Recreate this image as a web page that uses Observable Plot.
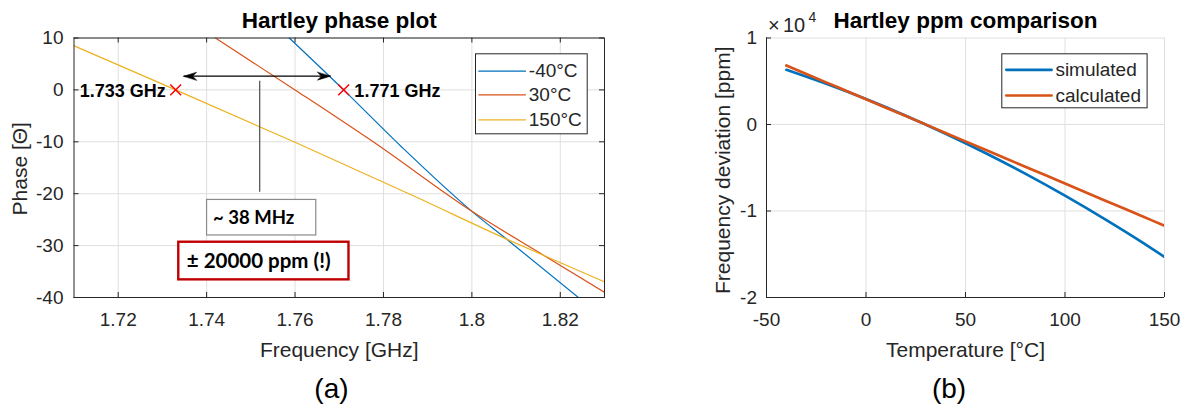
<!DOCTYPE html>
<html><head><meta charset="utf-8">
<script src="https://cdn.jsdelivr.net/npm/d3@7"></script>
<script src="https://cdn.jsdelivr.net/npm/@observablehq/plot@0.6"></script>
<style>
html,body{margin:0;padding:0;background:#fff;overflow:hidden;}
#stage{position:absolute;left:0;top:0;width:1192px;height:404px;}
#left{position:absolute;left:0;top:0;}
#right{position:absolute;left:661px;top:0;}
</style></head>
<body><div id="stage"><div id="left"></div><div id="right"></div></div>
<script>
// ---------- (a) Hartley phase plot ----------
const freqTicks = [1.72, 1.74, 1.76, 1.78, 1.8, 1.82];
const freqTickLabels = ["1.72", "1.74", "1.76", "1.78", "1.8", "1.82"];
const phaseTicks = [10, 0, -10, -20, -30, -40];
const phaseTickLabels = ["10", "0", "-10", "-20", "-30", "-40"];

const seriesNames = ["-40°C", "30°C", "150°C"];
const seriesColors = ["#0072BD", "#D95319", "#EDB120"];
const freqM40 = [1.7587, 1.771, 1.784, 1.800, 1.8085, 1.8241];
const phaseM40 = [10, 0, -10.9, -23.4, -29.2, -40];
const freq30 = [1.742, 1.760, 1.778, 1.800, 1.8163, 1.83];
const phase30 = [10, 0, -10.2, -23.4, -31.9, -39.0];
const freq150 = [1.71, 1.733, 1.76, 1.787, 1.8085, 1.8163, 1.83];
const phase150 = [8.5, 0, -10.1, -20.5, -29.0, -31.9, -37.0];

const markerFreqs = [1.733, 1.771];
const markerLabels = ["1.733 GHz", "1.771 GHz"];
const arrowFreqs = [1.7348, 1.768];
const arrowPhase = 2.64;
const guideFreq = 1.752;
const guidePhases = [1.68, -19.7];
const noteTexts = ["~ 38 MHz", "± 20000 ppm (!)"];
const noteFreqs = [[1.7401, 1.7648], [1.7337, 1.7722]];
const notePhases = [[-21.2, -28.05], [-29.35, -36.6]];

// ---------- (b) Hartley ppm comparison ----------
const tempTicks = [-50, 0, 50, 100, 150];
const tempTickLabels = ["-50", "0", "50", "100", "150"];
const ppmTicks = [10000, 0, -10000, -20000];
const ppmTickLabels = ["1", "0", "-1", "-2"];
const compNames = ["simulated", "calculated"];
const compColors = ["#0072BD", "#D95319"];
const temps = [-40, -20, 0, 20, 40, 60, 80, 100, 120, 140, 150];
const simulated = [6320, 4700, 2940, 1020, -1060, -3290, -5680, -8230, -10940, -13800, -15300];
const calculated = [6820, 4870, 2920, 975, -975, -2925, -4875, -6825, -8775, -10725, -11700];

// ---------- rendering ----------
const FONT = "'Liberation Sans', Arial, Helvetica, sans-serif";
const NOTEFONT = "Lato, 'Open Sans', sans-serif";
const AX = "#262626", GRID = "#dfdfdf";
const H = 404, TICK = 5;
const TICKFS = 19, LABELFS = 21, TITLEFS = 22.5, LEGFS = 19;
const lineShape = {draw(ctx, l) { ctx.moveTo(0, 0); ctx.lineTo(0, -l); }};
const headShape = {draw(ctx, l) { const w = 4; ctx.moveTo(0, -l); ctx.lineTo(w, 0); ctx.lineTo(0, -0.3 * l); ctx.lineTo(-w, 0); ctx.closePath(); }};

function legendMarks(names, colors, box, rows, lineDx, lineLen, textDx, sw) {
  const marks = [Plot.frame({fill: "white", stroke: AX, strokeWidth: 1, insetLeft: box[0], insetRight: box[1], insetTop: box[2], insetBottom: box[3]})];
  names.forEach((n, i) => {
    marks.push(Plot.vector([n], {frameAnchor: "top-left", dx: lineDx, dy: rows[i], length: lineLen, rotate: 90, anchor: "start", shape: lineShape, stroke: colors[i], strokeWidth: sw}));
    marks.push(Plot.text([n], {frameAnchor: "top-left", dx: textDx, dy: rows[i], text: d => d, textAnchor: "start", lineAnchor: "middle", fontSize: LEGFS, fontFamily: FONT, fill: AX}));
  });
  return marks;
}

// Left
const LW = 661, Lm = {left: 73.5, right: 57, top: 37.5, bottom: 107};
const LpW = LW - Lm.left - Lm.right, pH = H - Lm.top - Lm.bottom;
const curves = [
  ...freqM40.map((f, i) => ({s: seriesNames[0], f, p: phaseM40[i]})),
  ...freq30.map((f, i) => ({s: seriesNames[1], f, p: phase30[i]})),
  ...freq150.map((f, i) => ({s: seriesNames[2], f, p: phase150[i]}))
];
const notes = noteTexts.map((t, i) => ({t, x1: noteFreqs[i][0], x2: noteFreqs[i][1], y1: notePhases[i][0], y2: notePhases[i][1]}));

const left = Plot.plot({
  width: LW, height: H,
  marginLeft: Lm.left, marginRight: Lm.right, marginTop: Lm.top, marginBottom: Lm.bottom,
  style: {fontFamily: FONT, fontSize: TICKFS + "px", color: AX, background: "white"},
  x: {domain: [1.71, 1.83]},
  y: {domain: [-40, 10]},
  color: {domain: seriesNames, range: seriesColors},
  marks: [
    Plot.gridX(freqTicks, {stroke: GRID, strokeOpacity: 1}),
    Plot.gridY(phaseTicks, {stroke: GRID, strokeOpacity: 1}),
    Plot.line(curves, {x: "f", y: "p", z: "s", stroke: "s", strokeWidth: 1.2, curve: "monotone-x", clip: true}),
    Plot.tickX(freqTicks, {x: d => d, insetTop: pH - TICK, stroke: AX}),
    Plot.tickX(freqTicks, {x: d => d, insetBottom: pH - TICK, stroke: AX}),
    Plot.tickY(phaseTicks, {y: d => d, insetRight: LpW - TICK, stroke: AX}),
    Plot.tickY(phaseTicks, {y: d => d, insetLeft: LpW - TICK, stroke: AX}),
    Plot.frame({stroke: AX, strokeWidth: 1}),
    Plot.axisX(freqTicks, {tickSize: 0, tickPadding: 14.5, label: null, tickFormat: d => freqTickLabels[freqTicks.indexOf(d)], fontSize: TICKFS, fill: AX}),
    Plot.axisY(phaseTicks, {tickSize: 0, tickPadding: 10.5, label: null, tickFormat: d => phaseTickLabels[phaseTicks.indexOf(d)], fontSize: TICKFS, fill: AX}),
    // annotations
    Plot.link([arrowFreqs], {x1: d => d[0], x2: d => d[1], y1: d => arrowPhase, y2: d => arrowPhase, stroke: "#000", strokeWidth: 1.3}),
    Plot.vector([arrowFreqs], {x: d => d[0], y: d => arrowPhase, rotate: -90, anchor: "end", length: 13, shape: headShape, fill: "#000", stroke: "#000", strokeWidth: 0.5}),
    Plot.vector([arrowFreqs], {x: d => d[1], y: d => arrowPhase, rotate: 90, anchor: "end", length: 13, shape: headShape, fill: "#000", stroke: "#000", strokeWidth: 0.5}),
    Plot.ruleX([guideFreq], {x: d => d, y1: d => guidePhases[0], y2: d => guidePhases[1], stroke: "#595959", strokeWidth: 1.3}),
    Plot.dot(markerFreqs, {x: d => d, y: d => 0, symbol: "times", r: 5, stroke: "#ff0000", strokeWidth: 1.5}),
    Plot.text([markerLabels[0]], {x: d => markerFreqs[0], y: d => 0, text: d => d, textAnchor: "end", dx: -10, dy: 1, lineAnchor: "middle", fontFamily: FONT, fontWeight: "bold", fontSize: 18, fill: "#000"}),
    Plot.text([markerLabels[1]], {x: d => markerFreqs[1], y: d => 0, text: d => d, textAnchor: "start", dx: 10.7, dy: 1, lineAnchor: "middle", fontFamily: FONT, fontWeight: "bold", fontSize: 18, fill: "#000"}),
    Plot.rect([notes[0]], {x1: "x1", x2: "x2", y1: "y1", y2: "y2", fill: "white", stroke: "#8a8a8a", strokeWidth: 1.2}),
    Plot.rect([notes[1]], {x1: "x1", x2: "x2", y1: "y1", y2: "y2", fill: "white", stroke: "#C00000", strokeWidth: 2.4}),
    Plot.text([notes[0]], {x: "x1", y: d => (d.y1 + d.y2) / 2, text: "t", textAnchor: "start", dx: 6, lineAnchor: "middle", fontFamily: NOTEFONT, fontWeight: "bold", fontSize: 18.5, fill: "#000"}),
    Plot.text([notes[1]], {x: "x1", y: d => (d.y1 + d.y2) / 2, text: "t", textAnchor: "start", dx: 8, lineAnchor: "middle", fontFamily: NOTEFONT, fontWeight: "bold", fontSize: 20.5, fill: "#000"}),
    // legend
    ...legendMarks(seriesNames, seriesColors, [401.5, 17.3, 15.8, 163.7], [33.2, 56.8, 81.8], 404.8, 46.7, 454.8, 1.2),
    // texts
    Plot.text(["Hartley phase plot"], {frameAnchor: "top", dy: -10.2, lineAnchor: "bottom", text: d => d, fontWeight: "bold", fontSize: TITLEFS, fill: "#000"}),
    Plot.text(["Frequency [GHz]"], {frameAnchor: "bottom", dy: 59, lineAnchor: "bottom", text: d => d, fontSize: LABELFS, fill: AX}),
    Plot.text(["Phase [Θ]"], {frameAnchor: "left", dx: -54.2, dy: 1, rotate: -90, textAnchor: "middle", lineAnchor: "middle", text: d => d, fontSize: LABELFS, fill: AX}),
    Plot.text(["(a)"], {frameAnchor: "bottom", dx: -7.8, dy: 100.5, lineAnchor: "bottom", text: d => d, fontSize: 28, fill: "#000"})
  ]
});
document.getElementById("left").append(left);

// Right
const RW = 531, Rm = {left: 105, right: 28, top: 37.5, bottom: 107};
const RpW = RW - Rm.left - Rm.right;
const comp = [
  ...temps.map((t, i) => ({s: compNames[0], t, v: simulated[i]})),
  ...temps.map((t, i) => ({s: compNames[1], t, v: calculated[i]}))
];
const right = Plot.plot({
  width: RW, height: H,
  marginLeft: Rm.left, marginRight: Rm.right, marginTop: Rm.top, marginBottom: Rm.bottom,
  style: {fontFamily: FONT, fontSize: TICKFS + "px", color: AX, background: "white"},
  x: {domain: [-50, 150]},
  y: {domain: [-20000, 10000]},
  color: {domain: compNames, range: compColors},
  marks: [
    Plot.gridX(tempTicks, {stroke: GRID, strokeOpacity: 1}),
    Plot.gridY(ppmTicks, {stroke: GRID, strokeOpacity: 1}),
    Plot.line(comp, {x: "t", y: "v", z: "s", stroke: "s", strokeWidth: 2.7, curve: "monotone-x", clip: true}),
    Plot.ruleX([-50], {x: d => d, stroke: AX, strokeWidth: 1}),
    Plot.ruleY([-20000], {y: d => d, stroke: AX, strokeWidth: 1}),
    Plot.tickX(tempTicks, {x: d => d, insetTop: pH - TICK, stroke: AX}),
    Plot.tickY(ppmTicks, {y: d => d, insetRight: RpW - TICK, stroke: AX}),
    Plot.axisX(tempTicks, {tickSize: 0, tickPadding: 14.5, label: null, tickFormat: d => tempTickLabels[tempTicks.indexOf(d)], fontSize: TICKFS, fill: AX}),
    Plot.axisY(ppmTicks, {tickSize: 0, tickPadding: 9.5, label: null, tickFormat: d => ppmTickLabels[ppmTicks.indexOf(d)], fontSize: TICKFS, fill: AX}),
    ...legendMarks(compNames, compColors, [235.3, 17.4, 15.8, 189.7], [31.8, 57.5], 239.8, 45.3, 288.9, 2.7),
    Plot.text(["×"], {frameAnchor: "top-left", dx: 1.5, dy: -6.5, textAnchor: "start", lineAnchor: "bottom", text: d => d, fontSize: 20, fill: AX}),
    Plot.text(["10"], {frameAnchor: "top-left", dx: 16.5, dy: -5.8, textAnchor: "start", lineAnchor: "bottom", text: d => d, fontSize: 20, fill: AX}),
    Plot.text(["4"], {frameAnchor: "top-left", dx: 42, dy: -15.8, textAnchor: "start", lineAnchor: "bottom", text: d => d, fontSize: 14, fill: AX}),
    Plot.text(["Hartley ppm comparison"], {frameAnchor: "top", dy: -10.2, lineAnchor: "bottom", text: d => d, fontWeight: "bold", fontSize: TITLEFS, fill: "#000"}),
    Plot.text(["Temperature [°C]"], {frameAnchor: "bottom", dy: 59, lineAnchor: "bottom", text: d => d, fontSize: LABELFS, fill: AX}),
    Plot.text(["Frequency deviation [ppm]"], {frameAnchor: "left", dx: -43.4, dy: 2.5, rotate: -90, textAnchor: "middle", lineAnchor: "middle", text: d => d, fontSize: LABELFS, fill: AX}),
    Plot.text(["(b)"], {frameAnchor: "bottom", dx: -16.5, dy: 100.5, lineAnchor: "bottom", text: d => d, fontSize: 28, fill: "#000"})
  ]
});
document.getElementById("right").append(right);
</script>
</body></html>
